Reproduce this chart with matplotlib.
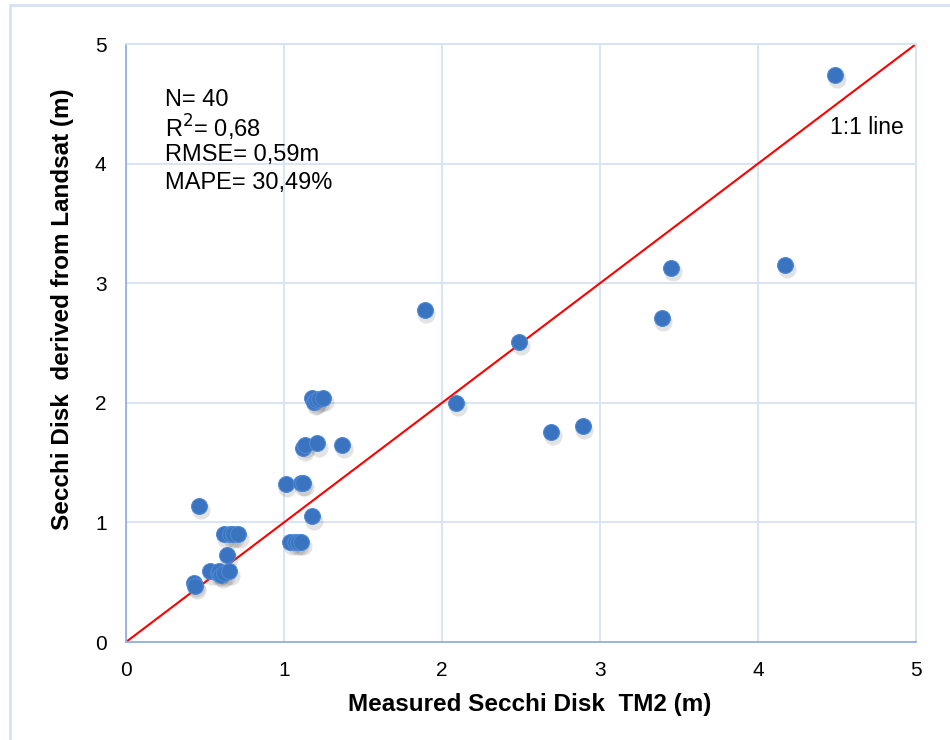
import numpy as np
import matplotlib
matplotlib.use("Agg")
import matplotlib.pyplot as plt
from matplotlib.patches import Rectangle

plt.rcParams["font.family"] = ["Liberation Sans", "DejaVu Sans"]

# measured (x) vs Landsat-derived (y) Secchi disk depth, m
measured = [
    4.49, 3.45, 4.17, 3.39, 1.89, 2.49, 2.09, 2.69, 2.89,
    1.18, 1.19, 1.20, 1.22, 1.25,
    1.12, 1.13, 1.21, 1.37,
    1.01, 1.11, 1.12,
    0.46, 1.18,
    0.62, 0.66, 0.68, 0.71,
    1.04, 1.07, 1.09, 1.11,
    0.64,
    0.53, 0.58, 0.59, 0.60, 0.62, 0.65,
    0.43, 0.44,
]
landsat = [
    4.74, 3.13, 3.15, 2.71, 2.78, 2.51, 2.00, 1.76, 1.81,
    2.04, 2.01, 2.02, 2.03, 2.04,
    1.62, 1.65, 1.66, 1.65,
    1.32, 1.33, 1.33,
    1.14, 1.05,
    0.90, 0.90, 0.90, 0.90,
    0.84, 0.84, 0.84, 0.84,
    0.73,
    0.59, 0.58, 0.59, 0.56, 0.58, 0.59,
    0.49, 0.47,
]

stats_lines = ["N= 40", "R$^2$= 0,68", "RMSE= 0,59m", "MAPE= 30,49%"]

fig = plt.figure(figsize=(9.5, 7.4), dpi=100)
ax = fig.add_axes([0.1326, 0.1324, 0.8316, 0.8081])

# outer chart border
fig.patches.append(Rectangle((0.011, -0.01), 1.0, 1.0 - 0.0068 + 0.01,
                             transform=fig.transFigure, fill=False,
                             edgecolor="#D5E2F3", lw=2))

grid_c = "#D6E3F3"
ax.set_xlim(0, 5)
ax.set_ylim(0, 5)
ax.set_xticks(range(6))
ax.set_yticks(range(6))
ax.grid(True, color=grid_c, lw=1.3)
ax.set_axisbelow(True)
for side in ["top", "right"]:
    ax.spines[side].set_color(grid_c)
    ax.spines[side].set_linewidth(1.3)
for side in ["left", "bottom"]:
    ax.spines[side].set_color("#8FB1DF")
    ax.spines[side].set_linewidth(1.3)
ax.tick_params(length=0, labelsize=15)
ax.tick_params(axis="x", pad=14)
ax.tick_params(axis="y", pad=14)

ax.plot([0, 5], [0, 5], color="#FF0000", lw=1.5, zorder=2)

# soft shadow under markers
ax.scatter(np.array(measured) + 0.012, np.array(landsat) - 0.035, s=170,
           color="#555555", alpha=0.16, lw=0, zorder=3)
ax.scatter(measured, landsat, s=130, color="#3A73C0", edgecolors="#4E88D4",
           lw=0.8, zorder=4)

for i, line in enumerate(stats_lines):
    ax.text(0.247, 4.53 - 0.23 * i, line, fontsize=17, va="center")
ax.text(4.92, 4.3, "1:1 line", fontsize=16.5, ha="right", va="center")

ax.set_xlabel("Measured Secchi Disk  TM2 (m)", fontsize=17.5, fontweight="bold")
ax.set_ylabel("Secchi Disk  derived from Landsat (m)", fontsize=17.5,
              fontweight="bold")
ax.xaxis.set_label_coords(0.511, -0.105)
ax.yaxis.set_label_coords(-0.08, 0.557)
ax.xaxis.label.set_va("center")
ax.yaxis.label.set_va("center")

fig.savefig("out.png", dpi=100)
